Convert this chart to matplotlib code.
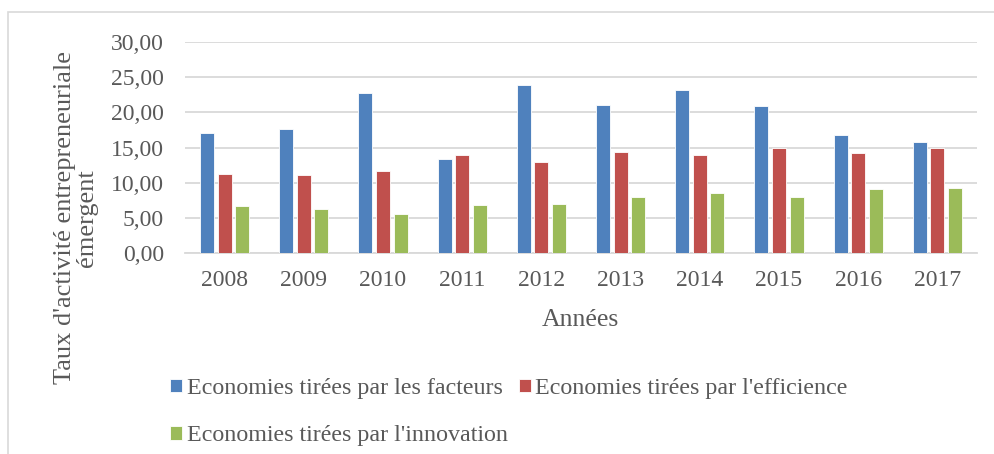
import numpy as np
import matplotlib.pyplot as plt
from matplotlib.patches import Rectangle

# Data
years = ['2008', '2009', '2010', '2011', '2012', '2013', '2014', '2015', '2016', '2017']
facteurs = [17.1, 17.7, 22.7, 13.3, 23.9, 21.1, 23.2, 20.9, 16.8, 15.8]
efficience = [11.3, 11.1, 11.7, 14.0, 12.9, 14.4, 14.0, 15.0, 14.2, 14.9]
innovation = [6.7, 6.3, 5.5, 6.8, 6.9, 7.9, 8.5, 7.9, 9.1, 9.2]
labels = ["Economies tirées par les facteurs",
          "Economies tirées par l'efficience",
          "Economies tirées par l'innovation"]
colors = ['#4F81BD', '#C0504D', '#9BBB59']

plt.rcParams['font.family'] = ['Liberation Serif', 'DejaVu Serif']
txt = '#595959'

fig = plt.figure(figsize=(9.94, 4.54), dpi=100)
W, H = 994, 454
ax = fig.add_axes([185 / W, 1 - 253 / H, 792 / W, 211 / H])

# outer frame
fig.patches.append(Rectangle((8 / W, -0.05), 1.0, 1 - 12 / H + 0.05,
                             transform=fig.transFigure, fill=False,
                             edgecolor='#d9d9d9', linewidth=1.2))

x = np.arange(len(years))
w = 0.178
step = 0.222
for i, (vals, c, lab) in enumerate(zip([facteurs, efficience, innovation], colors, labels)):
    ax.bar(x + (i - 1) * step, vals, width=w, color=c, edgecolor='white',
           linewidth=0.6, label=lab, zorder=3)

ax.set_xlim(-0.5, len(years) - 0.5)
ax.set_ylim(0, 30)
ax.set_yticks(np.arange(0, 31, 5))
ax.set_yticklabels([f"{v:.2f}".replace('.', ',') for v in np.arange(0, 31, 5)])
ax.set_xticks(x)
ax.set_xticklabels(years)
ax.grid(axis='y', color='#d9d9d9', linewidth=1.3, zorder=0)
for s in ['top', 'right', 'left']:
    ax.spines[s].set_visible(False)
ax.spines['bottom'].set_color('#d9d9d9')
ax.spines['bottom'].set_linewidth(1.3)
ax.tick_params(axis='both', length=0, labelsize=17, colors=txt)
ax.tick_params(axis='y', pad=15)
ax.tick_params(axis='x', pad=12)

fig.text(580 / W, 1 - 320 / H, 'Années', ha='center', va='center',
         fontsize=18.5, color=txt)
fig.text(76 / W, 1 - 218 / H, "Taux d'activité entrepreneuriale\némergent",
         ha='center', va='center', rotation=90, fontsize=19, color=txt,
         linespacing=1.0, multialignment='center')

h, l = ax.get_legend_handles_labels()
order = [0, 2, 1]
leg = fig.legend([h[i] for i in order], [l[i] for i in order], ncol=2,
                 loc='upper left', bbox_to_anchor=(170 / W, 1 - 378 / H),
                 frameon=False, fontsize=17.3, handlelength=0.5,
                 handleheight=0.5, handletextpad=0.2, columnspacing=0.45,
                 labelspacing=1.1, borderaxespad=0, borderpad=0)
for t in leg.get_texts():
    t.set_color(txt)

fig.savefig('out.png', dpi=100)
